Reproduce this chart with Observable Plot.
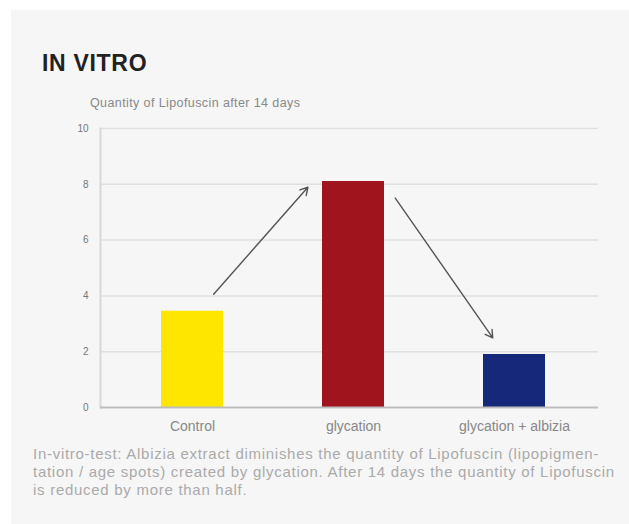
<!DOCTYPE html>
<html>
<head>
<meta charset="utf-8">
<script src="https://cdn.jsdelivr.net/npm/d3@7"></script>
<script src="https://cdn.jsdelivr.net/npm/@observablehq/plot@0.6"></script>
<style>
  html, body { margin: 0; padding: 0; background: #ffffff; }
  #panel { position: absolute; left: 11px; top: 10px; width: 618px; height: 514px; background: #f6f6f6; }
  #title { position: absolute; left: 42px; top: 50px; font-family: "Liberation Sans", Arial, sans-serif; font-weight: bold; font-size: 23px; color: #222; letter-spacing: 0.7px; }
  #subtitle { position: absolute; left: 90px; top: 96px; font-family: "Liberation Sans", Arial, sans-serif; font-size: 12.5px; color: #888; letter-spacing: 0.4px; }
  #chart { position: absolute; left: 0; top: 90px; }
  #caption { position: absolute; left: 33px; top: 445px; font-family: "Liberation Sans", Arial, sans-serif; font-size: 15px; line-height: 18px; color: #aaa; letter-spacing: 0.72px; white-space: nowrap; }
</style>
</head>
<body>
<div id="panel"></div>
<div id="title">IN VITRO</div>
<div id="subtitle">Quantity of Lipofuscin after 14 days</div>
<div id="chart"></div>
<div id="caption">In-vitro-test: Albizia extract diminishes the quantity of Lipofuscin (lipopigmen-<br>tation / age spots) created by glycation. After 14 days the quantity of Lipofuscin<br>is reduced by more than half.</div>
<script>
const categories = ["Control", "glycation", "glycation + albizia"];
const values = [3.45, 8.1, 1.9];
const colors = ["#ffe600", "#a0141e", "#15287a"];
const yTicks = [0, 2, 4, 6, 8, 10];
// arrows: from category/value to category/value, with insets in px
const arrowFrom = ["Control", "glycation"];
const arrowFromY = [3.2, 9.65];
const arrowTo = ["glycation", "glycation + albizia"];
const arrowToY = [9.75, 1.38];
const arrowInsetStart = [32, 73];
const arrowInsetEnd = [69, 38];

const bars = categories.map((c, i) => ({cat: c, value: values[i], color: colors[i]}));
const arrowMarks = arrowFrom.map((f, i) =>
  Plot.arrow([{x1: f, y1: arrowFromY[i], x2: arrowTo[i], y2: arrowToY[i]}], {
    x1: "x1", y1: "y1", x2: "x2", y2: "y2", bend: 0,
    stroke: "#555", strokeWidth: 1.4, headLength: 9,
    insetStart: arrowInsetStart[i], insetEnd: arrowInsetEnd[i]
  })
);

const svg = Plot.plot({
  width: 629,
  height: 350,
  marginLeft: 100,
  marginRight: 31,
  marginTop: 38,
  marginBottom: 33,
  style: {background: "transparent", fontFamily: "Liberation Sans, Arial, sans-serif"},
  x: {domain: categories, range: [108, 598], paddingInner: 0.615, paddingOuter: 0.327, label: null},
  y: {domain: [0, 10], label: null},
  marks: [
    Plot.ruleY(yTicks.filter(d => d > 0), {stroke: "#e0e0e0", strokeWidth: 1.5}),
    Plot.frame({anchor: "left", stroke: "#d8d8d8", strokeWidth: 2}),
    Plot.axisY({ticks: yTicks, tickSize: 0, tickPadding: 12, fontSize: 10, fill: "#777"}),
    Plot.axisX({tickSize: 0, tickPadding: 14, fontSize: 14, fill: "#888"}),
    Plot.barY(bars, {x: "cat", y: "value", fill: "color"}),
    Plot.ruleY([0], {stroke: "#bdbdbd", strokeWidth: 2}),
    ...arrowMarks
  ]
});
document.getElementById("chart").appendChild(svg);
</script>
</body>
</html>
